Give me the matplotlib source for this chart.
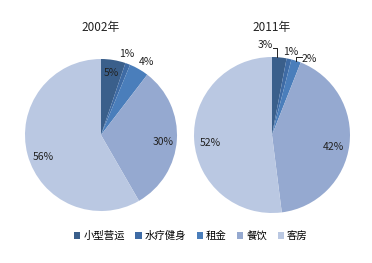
import numpy as np
import matplotlib
matplotlib.use('Agg')
from matplotlib import pyplot as plt

plt.rcParams['font.family'] = ['Noto Sans CJK SC', 'DejaVu Sans']

categories = ['小型营运', '水疗健身', '租金', '餐饮', '客房']
values_2002 = [5, 1, 4, 30, 56]
values_2011 = [3, 1, 2, 42, 52]
titles = ['2002年', '2011年']
colors = ['#3A5F8B', '#3E6BA5', '#4A7EBB', '#95A9D0', '#BAC8E2']

W, H = 372, 263
fig = plt.figure(figsize=(W / 100, H / 100), dpi=100)


def pie_axes(cx, cy, r):
    # axes placed so that a radius-1 pie has centre (cx, cy) px and radius r px
    half = 1.3 * r
    return fig.add_axes([(cx - half) / W, (H - cy - half) / H, 2 * half / W, 2 * half / H])


def draw(ax, values, dists, shifts):
    wedges, _ = ax.pie(values, colors=colors, startangle=90, counterclock=False,
                       radius=1, wedgeprops=dict(linewidth=0))
    ax.set_xlim(-1.3, 1.3)
    ax.set_ylim(-1.3, 1.3)
    ax.set_axis_off()
    total = float(sum(values))
    cum = np.cumsum([0] + list(values))
    for i, v in enumerate(values):
        if dists[i] is None:
            continue
        mid = (cum[i] + v / 2) / total * 360 + shifts[i]
        a = np.deg2rad(90 - mid)
        ax.text(dists[i] * np.cos(a), dists[i] * np.sin(a), f'{v}%',
                ha='center', va='center', fontsize=7.5, color='#222222')
    return wedges


ax1 = pie_axes(101, 135, 76)
wedges = draw(ax1, values_2002, [0.83, 1.12, 1.13, 0.82, 0.82], [0, -3, 2, 3, -6])
fig.text(101 / W, 1 - 28 / H, titles[0], ha='center', va='center', fontsize=8.5, color='#222222')

ax2 = pie_axes(272, 135, 78)
draw(ax2, values_2011, [None, 1.09, 1.08, 0.80, 0.80], [0, 0, 8, 4, -4])
# the first small slice is labelled to the left with a bracket leader
ax2.text(-0.09, 1.15, f'{values_2011[0]}%', ha='center', va='center', fontsize=7.5, color='#222222')
ax2.plot([0.01, 0.07, 0.07], [1.11, 1.11, 1.0], color='#222222', lw=0.7)
ax2.plot([0.31, 0.31, 0.38], [0.95, 1.0, 1.0], color='#222222', lw=0.7)
fig.text(272 / W, 1 - 28 / H, titles[1], ha='center', va='center', fontsize=8.5, color='#222222')

fig.legend(wedges, categories, loc='center', bbox_to_anchor=(191 / W, 1 - 236 / H),
           ncol=5, frameon=False, fontsize=7.5, handlelength=0.6, handleheight=0.6,
           handletextpad=0.3, columnspacing=1.0, borderaxespad=0)

fig.savefig('out.png', dpi=100)
